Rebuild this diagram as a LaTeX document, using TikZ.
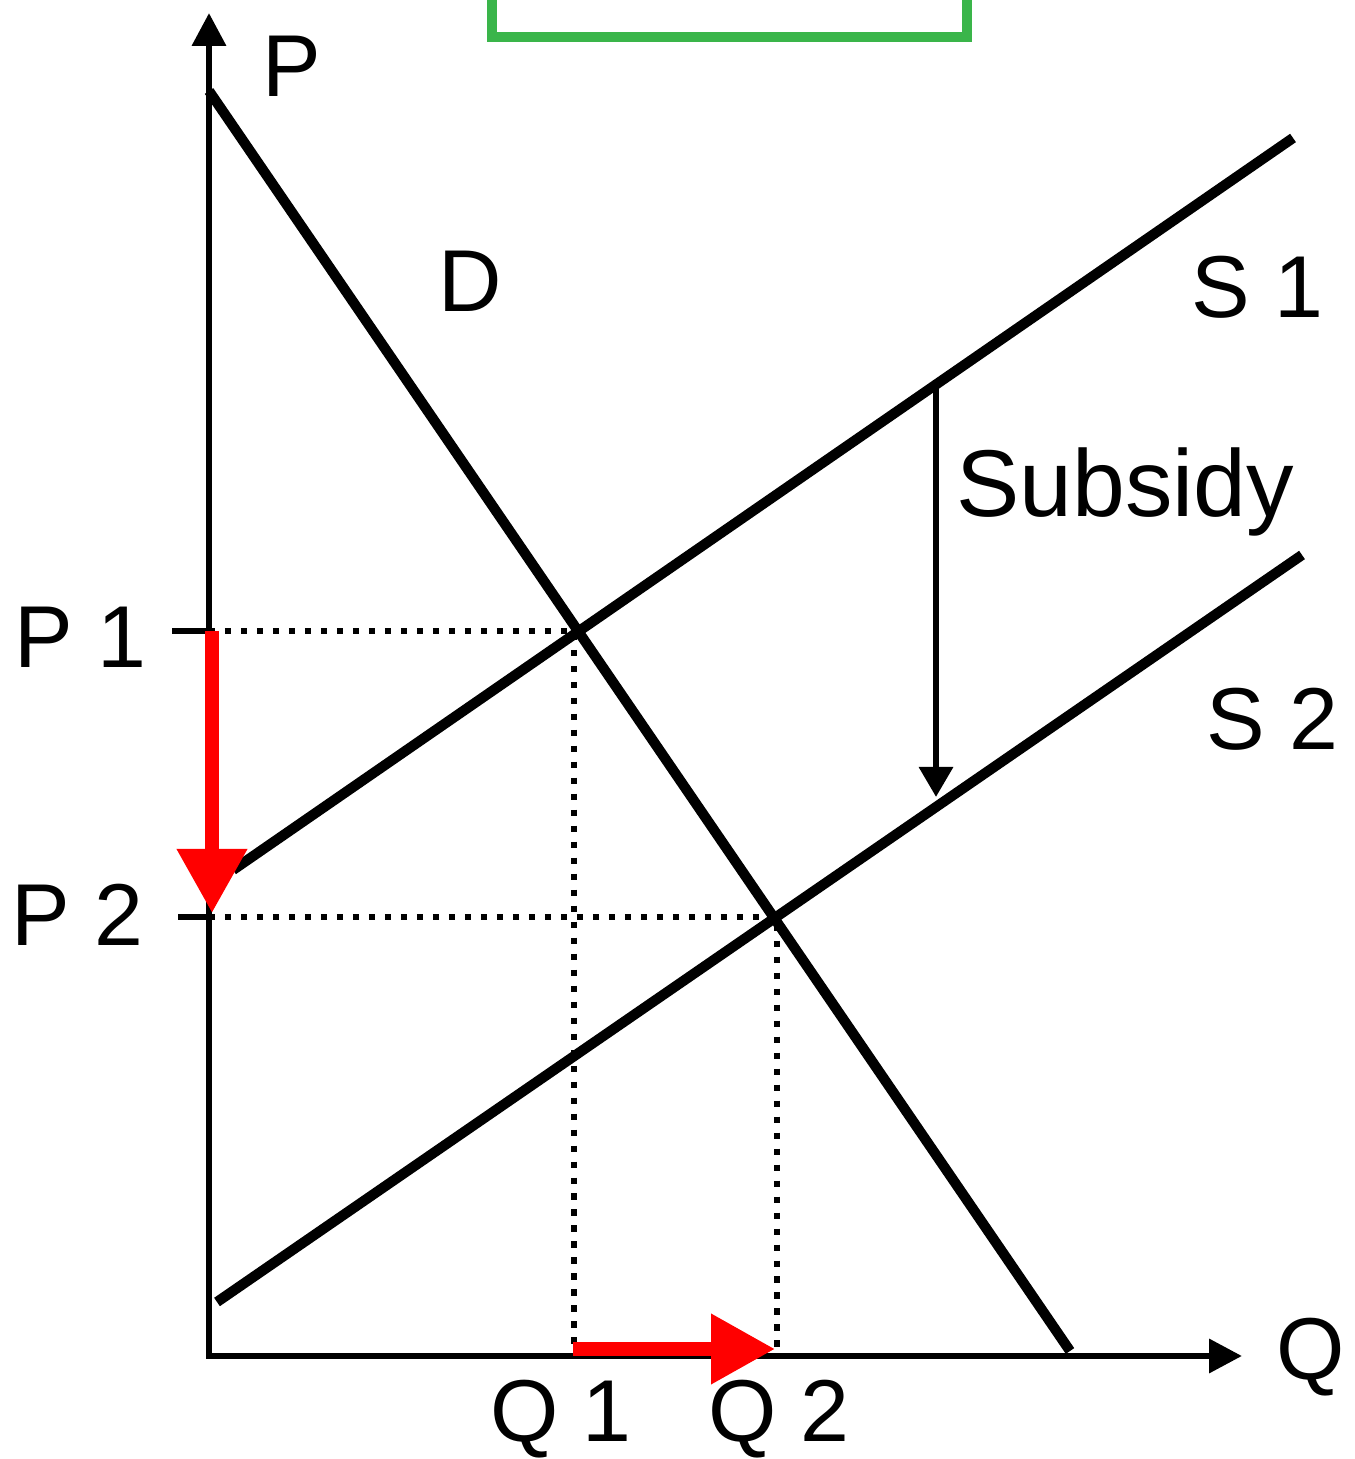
\documentclass[tikz,border=0pt]{standalone}
\usepackage{fontspec}
\setmainfont{Liberation Sans}
\usetikzlibrary{arrows.meta}
\definecolor{boxgreen}{RGB}{58,181,74}

\tikzset{
  curve/.style={line width=2.9pt},
  axis/.style={line width=1.9pt,-{Triangle[length=0.33cm,width=0.33cm]}},
  guide/.style={line width=1.75pt,dash pattern=on 1.75pt off 2.8pt},
  redshift/.style={red,line width=3.9pt,-{Triangle[length=0.64cm,width=0.67cm]}},
  lbl/.style={font=\fontsize{25}{30}\selectfont,inner sep=0pt,anchor=base}
}

\begin{document}
\begin{tikzpicture}
  \useasboundingbox (0,0) rectangle (13.54,14.59);
  % points
  \coordinate (O) at (2.09,1.03);
  \coordinate (Ytop) at (2.09,14.46);
  \coordinate (Xend) at (12.42,1.03);
  \coordinate (Dtop) at (2.09,13.68);
  \coordinate (Dbot) at (10.70,1.08);
  \coordinate (S1a) at (2.33,5.89);
  \coordinate (S1b) at (12.93,13.21);
  \coordinate (S2a) at (2.17,1.57);
  \coordinate (S2b) at (13.02,9.04);
  \coordinate (E1) at (5.74,8.28);
  \coordinate (E2) at (7.77,5.42);
  % green box, cut off at the top
  \draw[boxgreen,line width=2.9pt] (4.92,15.2) |- (9.67,14.22) -- (9.67,15.2);
  % guides
  \draw[guide] (O |- E1) -- (E1) -- (E1 |- O);
  \draw[guide] (O |- E2) -- (E2) -- (E2 |- O);
  % curves
  \draw[curve] (Dtop) -- (Dbot);
  \draw[curve] (S1a) -- (S1b);
  \draw[curve] (S2a) -- (S2b);
  % axes
  \draw[axis] (O) -- (Ytop);
  \draw[axis] ([xshift=-0.03cm]O) -- (Xend);
  \draw[line width=1.9pt] (1.72,8.28) -- (O |- E1);
  \draw[line width=1.9pt] (1.78,5.42) -- (O |- E2);
  % subsidy shift
  \draw[line width=1.8pt,-{Triangle[length=0.3cm,width=0.33cm]}] (9.36,10.74) -- (9.36,6.62);
  % changes
  \draw[redshift] (2.12,8.28) -- (2.12,5.46);
  \draw[redshift] (5.73,1.10) -- (7.75,1.10);
  % labels
  \node[lbl] (lP) at (2.92,13.62) {P};
  \node[lbl] (lD) at (4.70,11.47) {D};
  \node[lbl] (lS1) at (12.57,11.41) {S 1};
  \node[lbl] (lS2) at (12.72,7.09) {S 2};
  \node[lbl,font=\fontsize{27}{32}\selectfont] (lSub) at (11.25,9.42) {Subsidy};
  \node[lbl] (lP1) at (0.80,7.91) {P 1};
  \node[lbl] (lP2) at (0.77,5.13) {P 2};
  \node[lbl] (lQ1) at (5.61,0.17) {Q 1};
  \node[lbl] (lQ2) at (7.79,0.17) {Q 2};
  \node[lbl] (lQ) at (13.11,0.79) {Q};
\end{tikzpicture}
\end{document}
